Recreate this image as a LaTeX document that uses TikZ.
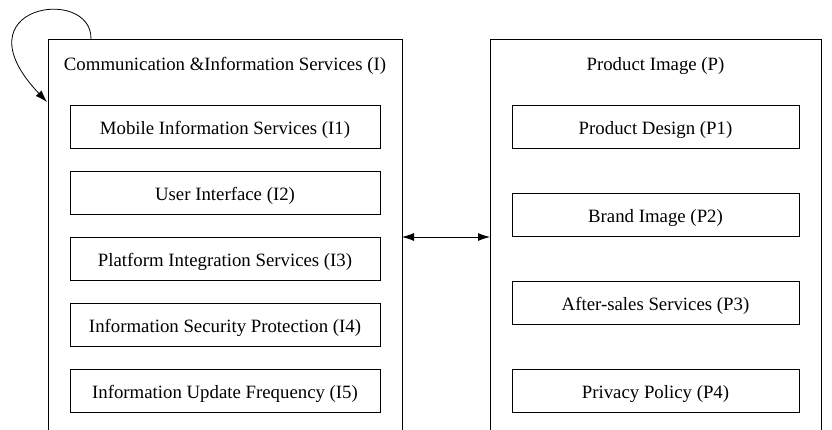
\documentclass[tikz,border=0pt]{standalone}
\usepackage{fontspec}
\setmainfont{Liberation Serif}
\usetikzlibrary{arrows.meta,positioning}

\begin{document}
\begin{tikzpicture}[
  x=1pt, y=-1pt,
  outerbox/.style={draw, line width=0.8pt, minimum height=430pt, anchor=north west, inner sep=0pt, outer sep=0pt},
  title/.style={font=\fontsize{18.8}{22}\selectfont, text height=15.6pt, text depth=0pt},
  leftitem/.style={draw, line width=0.8pt, minimum width=310pt, minimum height=43pt, font=\fontsize{18.8}{22}\selectfont, text height=15.6pt, text depth=0pt, inner sep=0pt, outer sep=0pt},
  rightitem/.style={draw, line width=0.8pt, minimum width=287pt, minimum height=43pt, font=\fontsize{18.8}{22}\selectfont, text height=15.6pt, text depth=0pt, inner sep=0pt, outer sep=0pt},
  edge/.style={-{Latex[length=12pt,width=8pt]}, line width=0.8pt}
]
\useasboundingbox (0,0) rectangle (832,430);
\clip (0,0) rectangle (832,430);

\node[outerbox, minimum width=354pt] (infoBox) at (48,39) {};
\node[outerbox, minimum width=331pt] (imageBox) at (490,39) {};

\node[title] (infoTitle) at (225,63) {Communication \&Information Services (I)};
\node[title] (imageTitle) at (655.5,63) {Product Image (P)};

\node[leftitem] (i1) at (225,126.5) {Mobile Information Services (I1)};
\node[leftitem, below=23pt of i1] (i2) {User Interface (I2)};
\node[leftitem, below=23pt of i2] (i3) {Platform Integration Services (I3)};
\node[leftitem, below=23pt of i3] (i4) {Information Security Protection (I4)};
\node[leftitem, below=23pt of i4] (i5) {Information Update Frequency (I5)};

\node[rightitem] (p1) at (655.5,126.5) {Product Design (P1)};
\node[rightitem, below=45pt of p1] (p2) {Brand Image (P2)};
\node[rightitem, below=45pt of p2] (p3) {After-sales Services (P3)};
\node[rightitem, below=45pt of p3] (p4) {Privacy Policy (P4)};

\coordinate (loopStart) at (91,39);
\coordinate (loopEnd) at (47,102);
\coordinate (link) at (446,237);

\draw[edge] (loopStart) .. controls (92,-15) and (-45,5) .. (loopEnd);
\draw[edge, {Latex[length=12pt,width=8pt]}-{Latex[length=12pt,width=8pt]}] (infoBox.east |- link) -- (imageBox.west |- link);
\end{tikzpicture}
\end{document}
